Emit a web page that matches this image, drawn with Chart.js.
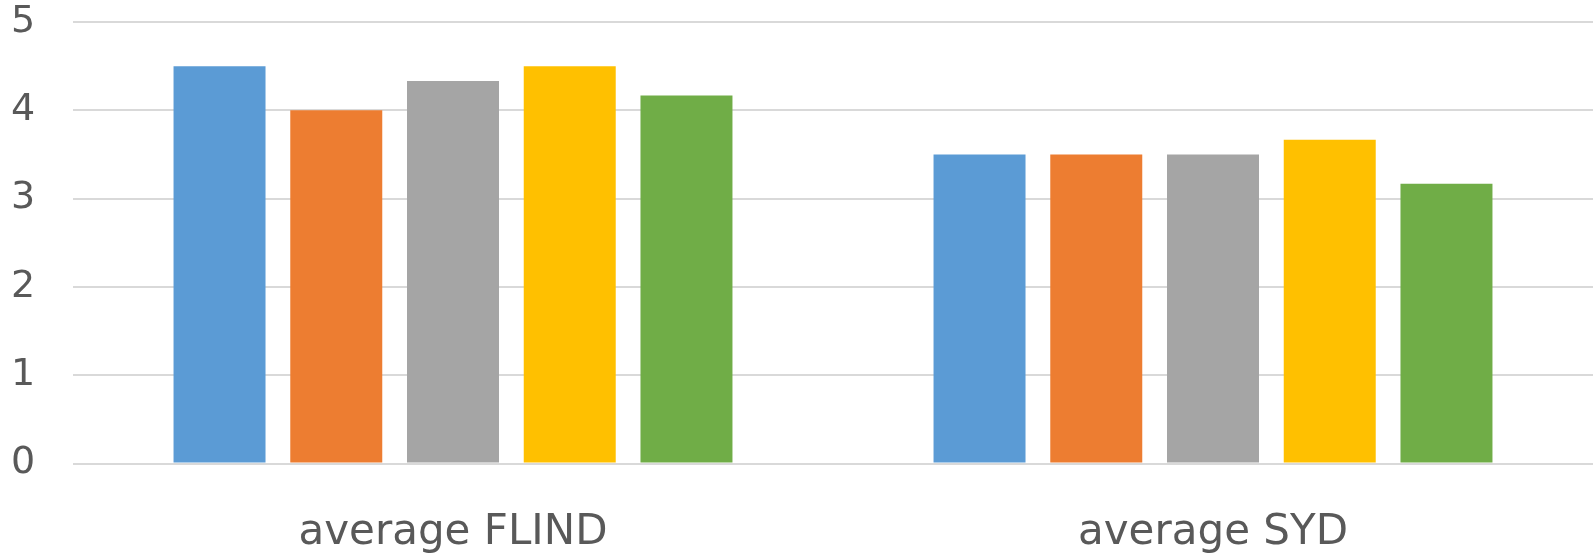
<!DOCTYPE html>
<html>
<head>
<meta charset="utf-8">
<script src="https://cdn.jsdelivr.net/npm/chart.js@4/dist/chart.umd.min.js"></script>
<style>
  html, body { margin: 0; padding: 0; background: #ffffff; }
  #wrap { position: relative; width: 1593px; height: 559px; }
</style>
</head>
<body>
<div id="wrap"><canvas id="c"></canvas></div>
<script>
const categories = ["average FLIND", "average SYD"];
const seriesNames = ["Series 1", "Series 2", "Series 3", "Series 4", "Series 5"];
const series1 = [4.5, 3.5];
const series2 = [4.0, 3.5];
const series3 = [4.333, 3.5];
const series4 = [4.5, 3.667];
const series5 = [4.167, 3.167];
const seriesColors = ["#5B9BD5", "#ED7D31", "#A5A5A5", "#FFC000", "#70AD47"];
const yTicks = [0, 1, 2, 3, 4, 5];

const allSeries = [series1, series2, series3, series4, series5];
const datasets = allSeries.map((vals, i) => ({
  label: seriesNames[i],
  data: vals,
  backgroundColor: seriesColors[i],
  borderWidth: 0,
  categoryPercentage: 0.768,
  barPercentage: 0.788
}));

new Chart(document.getElementById('c'), {
  type: 'bar',
  data: { labels: categories, datasets: datasets },
  options: {
    responsive: true,
    maintainAspectRatio: false,
    animation: false,
    devicePixelRatio: 1,
    layout: { padding: { top: 22, right: 0, bottom: 0, left: 11 } },
    plugins: { legend: { display: false }, tooltip: { enabled: false } },
    scales: {
      x: {
        grid: { display: false, drawTicks: false },
        border: { display: false },
        ticks: {
          color: '#595959',
          font: { family: 'DejaVu Sans', size: 42 },
          padding: 44
        },
        afterFit: (s) => { s.height = 95.5; }
      },
      y: {
        min: 0,
        max: 5,
        afterBuildTicks: (s) => { s.ticks = yTicks.map(v => ({ value: v })); },
        grid: { color: '#d9d9d9', lineWidth: 2, drawTicks: false },
        border: { display: false },
        ticks: {
          color: '#595959',
          font: { family: 'DejaVu Sans', size: 38, lineHeight: 1.1 },
          padding: 0,
          crossAlign: 'far'
        },
        afterFit: (s) => { s.width = 62; }
      }
    }
  }
});
</script>
</body>
</html>
